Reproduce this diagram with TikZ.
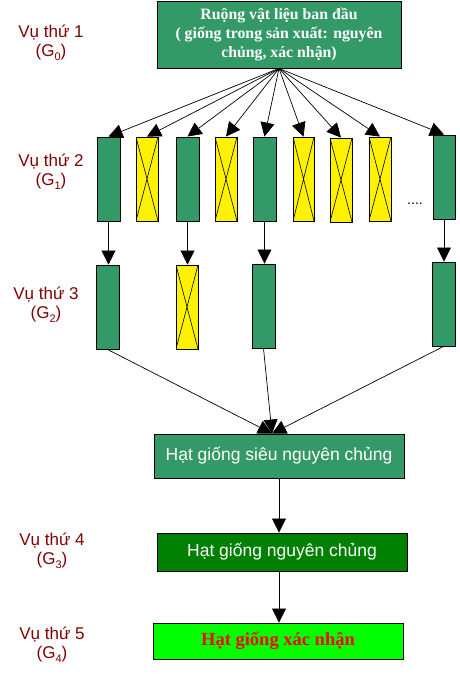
\documentclass[tikz,border=0pt]{standalone}
\usepackage{fontspec}
\setmainfont{Liberation Serif}
\newfontfamily\arial{Liberation Sans}
\usetikzlibrary{arrows.meta}
\definecolor{mgreen}{HTML}{339966}
\definecolor{dgreen}{HTML}{008000}
\definecolor{lgreen}{HTML}{00FF00}
\definecolor{dred}{HTML}{800000}
\tikzset{
  gbox/.style={draw=black, line width=0.9pt, fill=mgreen, inner sep=0pt},
  ybox/.style={draw=black, line width=0.9pt, fill=yellow, inner sep=0pt,
    path picture={\draw[line width=0.6pt] (path picture bounding box.north west) -- (path picture bounding box.south east)
      (path picture bounding box.north east) -- (path picture bounding box.south west);}},
  arr/.style={line width=0.7pt, -{Triangle[length=14pt,width=14pt]}},
  lbl/.style={text=dred, font=\arial\fontsize{17}{19}\selectfont, align=center, inner sep=0pt},
}
\newcommand{\bx}[6]{\node[#2, minimum width=#4-#3, minimum height=#6-#5] (#1) at ({(#3+#4)/2},{(#5+#6)/2}) {};}
\newcommand{\lowsub}[1]{\raisebox{-4pt}{\fontsize{11}{11}\selectfont #1}}
\begin{document}
\begin{tikzpicture}[x=1pt,y=-1pt]
\useasboundingbox (0,0) rectangle (459,677);
% top box
\node[gbox, minimum width=244, minimum height=67, text=white, align=center,
  font=\bfseries\fontsize{15.8}{19}\selectfont] (top) at (279,34.5)
  {Ruộng vật liệu ban đầu\\( giống trong sản xuất: nguyên\\chủng, xác nhận)};
% row 2
\bx{b1}{gbox}{97}{120}{137}{221}
\bx{b2}{ybox}{136}{158}{137}{221}
\bx{b3}{gbox}{176}{199}{137}{221}
\bx{b4}{ybox}{215}{237}{137}{221}
\bx{b5}{gbox}{253}{276}{137}{221}
\bx{b6}{ybox}{293}{314}{137}{221}
\bx{b7}{ybox}{330}{352}{138}{222}
\bx{b8}{ybox}{369}{391}{137}{221}
\bx{b9}{gbox}{433}{455}{135}{219}
\node[font=\arial\fontsize{14}{16}\selectfont, inner sep=0pt] (dots) at (415,204) {....};
% row 3
\bx{c1}{gbox}{96}{119}{265}{349}
\bx{c2}{ybox}{176}{198}{265}{349}
\bx{c3}{gbox}{252}{275}{264}{348}
\bx{c4}{gbox}{432}{455}{262}{346}
% bottom boxes
\node[draw=black, line width=0.9pt, fill=mgreen, minimum width=250, minimum height=44, text=white,
  font=\arial\fontsize{17.5}{19}\selectfont] (s1) at (279,456) {Hạt giống siêu nguyên chủng};
\node[draw=black, line width=0.9pt, fill=dgreen, minimum width=250, minimum height=38, text=white,
  font=\arial\fontsize{17.5}{19}\selectfont] (s2) at (282,552) {Hạt giống nguyên chủng};
\node[draw=black, line width=0.9pt, fill=lgreen, minimum width=250, minimum height=36, text=red,
  font=\bfseries\fontsize{18.5}{19}\selectfont] (s3) at (278,641) {Hạt giống xác nhận};
% labels
\node[lbl] (l1) at (51,43) {Vụ thứ 1\\(G\lowsub{0})};
\node[lbl] (l2) at (51,172) {Vụ thứ 2\\(G\lowsub{1})};
\node[lbl] (l3) at (46,305) {Vụ thứ 3\\(G\lowsub{2})};
\node[lbl] (l4) at (52,551) {Vụ thứ 4\\(G\lowsub{3})};
\node[lbl] (l5) at (52,645) {Vụ thứ 5\\(G\lowsub{4})};
% fan arrows
\foreach \b in {b1,b2,b3,b4,b5,b6,b7,b8,b9}
  \draw[arr] (top.south) -- (\b.north);
% vertical arrows
\draw[arr] (b1.south) -- (b1.south |- c1.north);
\draw[arr] (b3.south) -- (b3.south |- c2.north);
\draw[arr] (b5.south) -- (b5.south |- c3.north);
\draw[arr] (b9.south) -- (b9.south |- c4.north);
% converging
\coordinate (conv) at ([xshift=-7pt]s1.north);
\draw[arr] (c1.south) -- (conv);
\draw[arr] (c3.south) -- (conv);
\draw[arr] (c4.south) -- (conv);
\draw[arr] (s1.south) -- (s1.south |- s2.north);
\draw[arr] (s2.south -| s1.south) -- (s1.south |- s3.north);
\end{tikzpicture}
\end{document}
